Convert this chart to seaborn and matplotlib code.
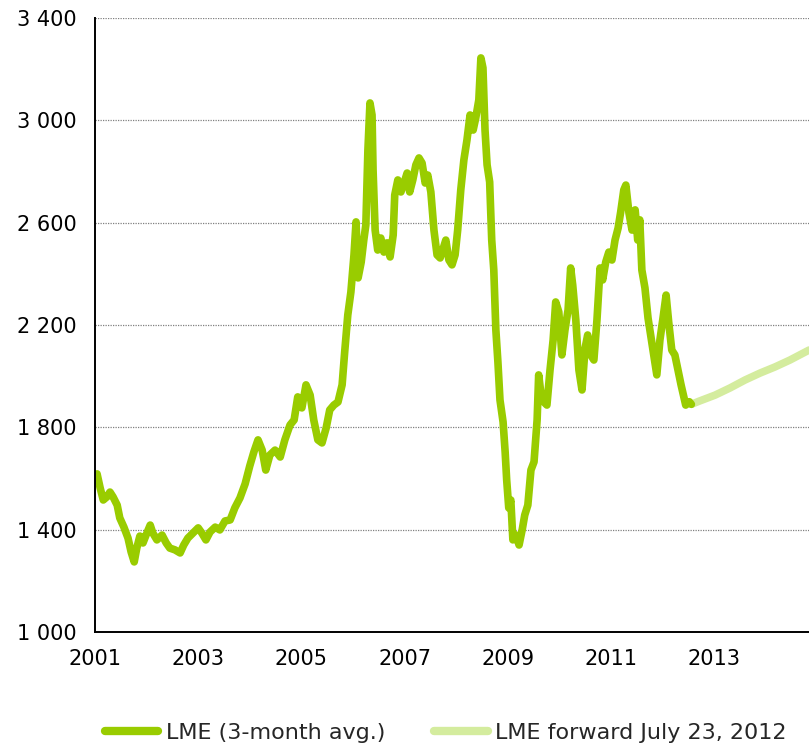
import matplotlib
matplotlib.use("Agg")
import matplotlib.pyplot as plt
from matplotlib.ticker import FuncFormatter, FixedLocator
from matplotlib.lines import Line2D
import seaborn as sns
import pandas as pd

# ---- data (decimal years, USD/t) ----
lme_years = [
    2001.00, 2001.04, 2001.10, 2001.16, 2001.23, 2001.29, 2001.35, 2001.43, 2001.48, 2001.56,
    2001.64, 2001.70, 2001.76, 2001.81, 2001.87, 2001.93, 2001.99, 2002.07, 2002.12, 2002.20,
    2002.30, 2002.38, 2002.45, 2002.55, 2002.65, 2002.72, 2002.80, 2002.90, 2003.00, 2003.07,
    2003.15, 2003.23, 2003.33, 2003.42, 2003.52, 2003.62, 2003.71, 2003.81, 2003.91, 2004.00,
    2004.08, 2004.16, 2004.24, 2004.31, 2004.39, 2004.49, 2004.59, 2004.68, 2004.78, 2004.86,
    2004.93, 2005.01, 2005.09, 2005.17, 2005.24, 2005.32, 2005.40, 2005.48, 2005.55, 2005.63,
    2005.71, 2005.79, 2005.84, 2005.90, 2005.96, 2006.02, 2006.06, 2006.10, 2006.16, 2006.21,
    2006.25, 2006.29, 2006.33, 2006.37, 2006.39, 2006.43, 2006.48, 2006.54, 2006.60, 2006.66,
    2006.72, 2006.78, 2006.81, 2006.87, 2006.93, 2006.99, 2007.05, 2007.10, 2007.16, 2007.22,
    2007.28, 2007.34, 2007.40, 2007.45, 2007.51, 2007.57, 2007.63, 2007.69, 2007.74, 2007.80,
    2007.86, 2007.92, 2007.98, 2008.03, 2008.09, 2008.15, 2008.21, 2008.27, 2008.33, 2008.38,
    2008.44, 2008.48, 2008.52, 2008.56, 2008.60, 2008.65, 2008.69, 2008.73, 2008.77, 2008.81,
    2008.85, 2008.91, 2008.95, 2008.98, 2009.02, 2009.06, 2009.10, 2009.16, 2009.22, 2009.28,
    2009.33, 2009.39, 2009.45, 2009.51, 2009.57, 2009.60, 2009.64, 2009.70, 2009.76, 2009.82,
    2009.88, 2009.93, 2009.99, 2010.05, 2010.11, 2010.17, 2010.22, 2010.26, 2010.32, 2010.38,
    2010.44, 2010.50, 2010.55, 2010.61, 2010.67, 2010.73, 2010.79, 2010.84, 2010.90, 2010.96,
    2011.02, 2011.08, 2011.14, 2011.19, 2011.25, 2011.29, 2011.35, 2011.41, 2011.47, 2011.52,
    2011.56, 2011.60, 2011.66, 2011.72, 2011.78, 2011.83, 2011.89, 2011.95, 2012.01, 2012.07,
    2012.12, 2012.18, 2012.24, 2012.30, 2012.36, 2012.45, 2012.52, 2012.56,
]
lme_values = [
    1594, 1618, 1563, 1516, 1528, 1547, 1528, 1496, 1446, 1410,
    1367, 1313, 1274, 1328, 1375, 1348, 1379, 1418, 1387, 1360,
    1379, 1348, 1328, 1321, 1309, 1340, 1367, 1387, 1407, 1387,
    1360, 1391, 1410, 1399, 1434, 1438, 1485, 1524, 1579, 1649,
    1704, 1751, 1711, 1633, 1692, 1711, 1684, 1751, 1809, 1829,
    1919, 1876, 1966, 1926, 1829, 1751, 1739, 1797, 1868, 1887,
    1899, 1966, 2095, 2239, 2329, 2474, 2603, 2384, 2446, 2532,
    2591, 2884, 3068, 3021, 2806, 2571, 2493, 2540, 2485, 2521,
    2466, 2552, 2708, 2767, 2720, 2755, 2794, 2720, 2767, 2826,
    2853, 2833, 2755, 2786, 2720, 2571, 2474, 2462, 2493, 2532,
    2454, 2435, 2474, 2571, 2728, 2845, 2923, 3021, 2962, 3009,
    3080, 3244, 3205, 2962, 2826, 2759, 2532, 2415, 2181, 2055,
    1907, 1821, 1704, 1594, 1485, 1516, 1360, 1379, 1340, 1399,
    1457, 1496, 1633, 1665, 1829, 2005, 1938, 1899, 1887, 2024,
    2141, 2290, 2251, 2083, 2181, 2259, 2423, 2356, 2220, 2024,
    1946, 2110, 2161, 2083, 2063, 2220, 2423, 2376, 2446, 2485,
    2454, 2532, 2579, 2642, 2728, 2747, 2638, 2571, 2650, 2532,
    2611, 2415, 2345, 2227, 2149, 2083, 2005, 2141, 2227, 2317,
    2212, 2102, 2083, 2024, 1966, 1887, 1900, 1890,
]

fwd_years = [2012.56, 2012.72, 2013.02, 2013.31, 2013.60, 2013.89, 2014.18, 2014.47, 2014.84]
fwd_values = [1890, 1903, 1926, 1954, 1985, 2012, 2036, 2063, 2102]

x_ticks = [2001, 2003, 2005, 2007, 2009, 2011, 2013]
y_ticks = [1000, 1400, 1800, 2200, 2600, 3000, 3400]

lme_label = "LME (3-month avg.)"
fwd_label = "LME forward July 23, 2012"

main_color = "#99CC00"
fwd_color = "#D4EC9E"

# ---- plot ----
sns.set_style("white")
plt.rcParams["font.family"] = ["DejaVu Sans"]
fs = 15
legend_fs = 16

fig = plt.figure(figsize=(8.09, 7.45), dpi=100)
ax = fig.add_axes([95 / 809, 1 - 632 / 745, 1 - 95 / 809, (632 - 18) / 745])

df_lme = pd.DataFrame({"year": lme_years, "price": lme_values})
df_fwd = pd.DataFrame({"year": fwd_years, "price": fwd_values})

sns.lineplot(data=df_fwd, x="year", y="price", ax=ax, color=fwd_color,
             linewidth=5.5, legend=False, zorder=2)
sns.lineplot(data=df_lme, x="year", y="price", ax=ax, color=main_color,
             linewidth=5.5, legend=False, zorder=3)

ax.set_xlim(2001, 2014.84)
ax.set_ylim(1000, 3400)
ax.xaxis.set_major_locator(FixedLocator(x_ticks))
ax.yaxis.set_major_locator(FixedLocator(y_ticks))
ax.xaxis.set_major_formatter(FuncFormatter(lambda v, p: f"{int(round(v))}"))
ax.yaxis.set_major_formatter(FuncFormatter(lambda v, p: f"{int(round(v)):,}".replace(",", " ")))
ax.set_xlabel("")
ax.set_ylabel("")

for y in y_ticks[1:]:
    ax.axhline(y, color="#808080", linewidth=0.9, linestyle=(0, (1, 1)), zorder=1)

sns.despine(ax=ax, top=True, right=True)
for s in ["left", "bottom"]:
    ax.spines[s].set_color("black")
    ax.spines[s].set_linewidth(1.4)
    ax.spines[s].set_zorder(4)

ax.tick_params(axis="both", which="major", direction="out", length=6, width=1.3,
               color="black", labelsize=fs, labelcolor="black")
ax.tick_params(axis="x", pad=6)
ax.tick_params(axis="y", pad=7)

h1 = Line2D([0], [0], color=main_color, linewidth=6)
h2 = Line2D([0], [0], color=fwd_color, linewidth=6)
fig.legend([h1, h2], [lme_label, fwd_label], loc="center",
           bbox_to_anchor=(446 / 809, 1 - 733 / 745), ncol=2, frameon=False,
           fontsize=legend_fs, handlelength=2.4, handletextpad=0.35, columnspacing=2.2,
           borderpad=0)

fig.savefig("out.png", dpi=100)
